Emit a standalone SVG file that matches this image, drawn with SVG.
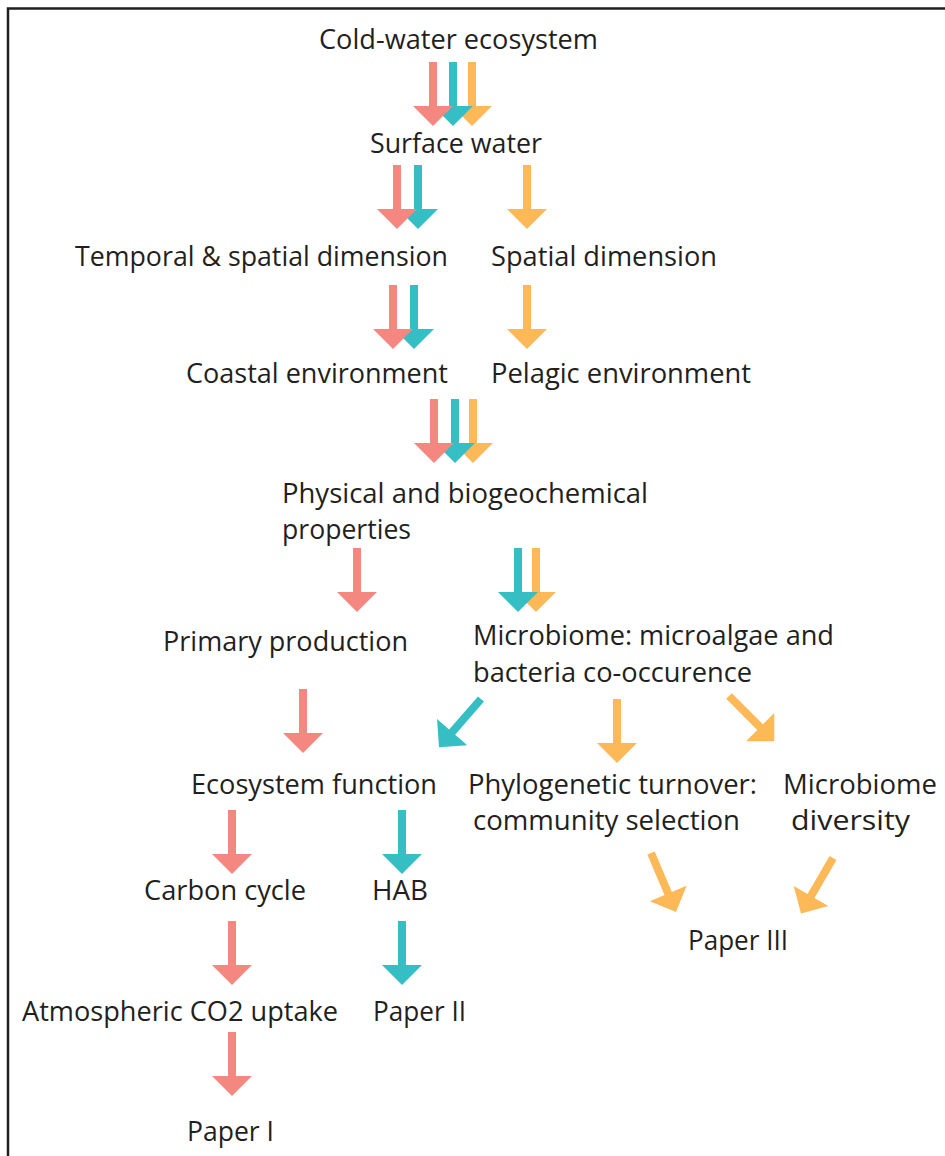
<svg xmlns="http://www.w3.org/2000/svg" width="945" height="1156" viewBox="0 0 945 1156">
<style>
.t{font-family:"Open Sans","Liberation Sans",sans-serif;font-size:27px;fill:#231F20;}
.r{fill:#F4877F;}
.c{fill:#35BFC4;}
.y{fill:#FDB858;}
</style>
<defs>
<path id="arr" d="M-4,0 H4 V44 H20 L0,64 L-20,44 H-4 Z"/>
</defs>
<rect width="945" height="1156" fill="#fff"/>
<path d="M8,1160 V8.5 H950" fill="none" stroke="#231F20" stroke-width="2.5"/>
<g id="connectors">
<use href="#arr" class="y" transform="translate(472,62)"/>
<use href="#arr" class="c" transform="translate(453,62)"/>
<use href="#arr" class="r" transform="translate(433,62)"/>
<use href="#arr" class="c" transform="translate(418,165)"/>
<use href="#arr" class="r" transform="translate(397,165)"/>
<use href="#arr" class="y" transform="translate(527,165)"/>
<use href="#arr" class="c" transform="translate(414,285)"/>
<use href="#arr" class="r" transform="translate(393,285)"/>
<use href="#arr" class="y" transform="translate(527,285)"/>
<use href="#arr" class="y" transform="translate(473,399)"/>
<use href="#arr" class="c" transform="translate(455,399)"/>
<use href="#arr" class="r" transform="translate(434,399)"/>
<use href="#arr" class="r" transform="translate(357,548)"/>
<use href="#arr" class="y" transform="translate(536,548)"/>
<use href="#arr" class="c" transform="translate(518,548)"/>
<use href="#arr" class="r" transform="translate(303,689)"/>
<use href="#arr" class="c" transform="translate(481,699) rotate(41)"/>
<use href="#arr" class="y" transform="translate(617,699)"/>
<use href="#arr" class="y" transform="translate(729,696) rotate(-45)"/>
<use href="#arr" class="r" transform="translate(232,810)"/>
<use href="#arr" class="c" transform="translate(402,810)"/>
<use href="#arr" class="r" transform="translate(232,921)"/>
<use href="#arr" class="c" transform="translate(402,921)"/>
<use href="#arr" class="r" transform="translate(232,1032)"/>
<use href="#arr" class="y" transform="translate(651,853) rotate(-23)"/>
<use href="#arr" class="y" transform="translate(833,858) rotate(30)"/>
</g>
<g id="n-cold"><text class="t" x="319" y="49" textLength="279" lengthAdjust="spacingAndGlyphs">Cold-water ecosystem</text></g>
<g id="n-surface"><text class="t" x="370" y="153" textLength="172" lengthAdjust="spacingAndGlyphs">Surface water</text></g>
<g id="n-temporal"><text class="t" x="75" y="266" textLength="373" lengthAdjust="spacingAndGlyphs">Temporal &amp; spatial dimension</text></g>
<g id="n-spatial"><text class="t" x="491" y="266" textLength="226" lengthAdjust="spacingAndGlyphs">Spatial dimension</text></g>
<g id="n-coastal"><text class="t" x="186" y="383" textLength="262" lengthAdjust="spacingAndGlyphs">Coastal environment</text></g>
<g id="n-pelagic"><text class="t" x="491" y="383" textLength="260" lengthAdjust="spacingAndGlyphs">Pelagic environment</text></g>
<g id="n-physical"><text class="t" x="282" y="503" textLength="366" lengthAdjust="spacingAndGlyphs">Physical and biogeochemical</text><text class="t" x="282" y="539" textLength="129" lengthAdjust="spacingAndGlyphs">properties</text></g>
<g id="n-primary"><text class="t" x="163" y="651" textLength="245" lengthAdjust="spacingAndGlyphs">Primary production</text></g>
<g id="n-microbiome"><text class="t" x="473" y="645" textLength="361" lengthAdjust="spacingAndGlyphs">Microbiome: microalgae and</text><text class="t" x="473" y="682" textLength="279" lengthAdjust="spacingAndGlyphs">bacteria co-occurence</text></g>
<g id="n-ecosystem"><text class="t" x="191" y="794" textLength="246" lengthAdjust="spacingAndGlyphs">Ecosystem function</text></g>
<g id="n-phylo"><text class="t" x="468" y="794" textLength="289" lengthAdjust="spacingAndGlyphs">Phylogenetic turnover:</text><text class="t" x="473" y="830" textLength="267" lengthAdjust="spacingAndGlyphs">community selection</text></g>
<g id="n-diversity"><text class="t" x="783" y="794" textLength="154" lengthAdjust="spacingAndGlyphs">Microbiome</text><text class="t" x="791" y="830" textLength="119" lengthAdjust="spacingAndGlyphs">diversity</text></g>
<g id="n-carbon"><text class="t" x="144" y="900" textLength="162" lengthAdjust="spacingAndGlyphs">Carbon cycle</text></g>
<g id="n-hab"><text class="t" x="372" y="900" textLength="56" lengthAdjust="spacingAndGlyphs">HAB</text></g>
<g id="n-paper3"><text class="t" x="688" y="950" textLength="100" lengthAdjust="spacingAndGlyphs">Paper III</text></g>
<g id="n-co2"><text class="t" x="22" y="1021" textLength="316" lengthAdjust="spacingAndGlyphs">Atmospheric CO2 uptake</text></g>
<g id="n-paper2"><text class="t" x="373" y="1021" textLength="93" lengthAdjust="spacingAndGlyphs">Paper II</text></g>
<g id="n-paper1"><text class="t" x="187" y="1141" textLength="87" lengthAdjust="spacingAndGlyphs">Paper I</text></g>
</svg>
